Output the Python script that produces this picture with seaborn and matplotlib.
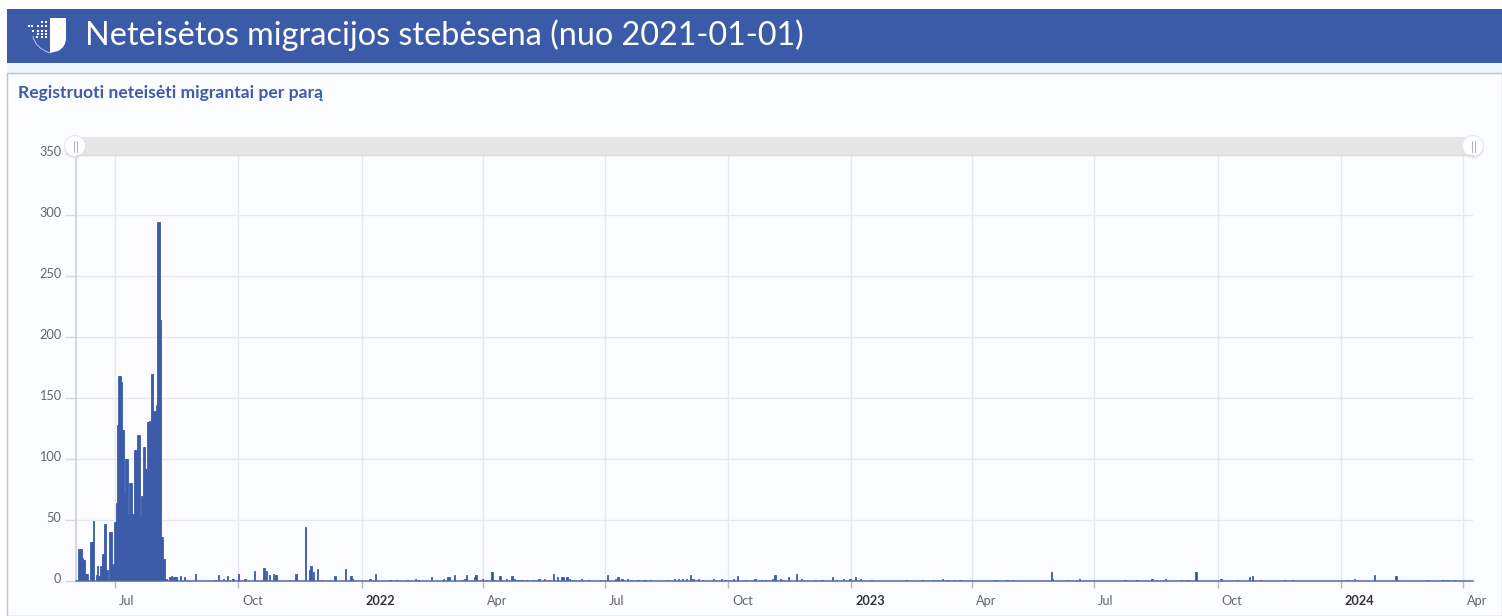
import matplotlib
matplotlib.use("Agg")
import matplotlib.pyplot as plt
import matplotlib.dates as mdates
from matplotlib.patches import Rectangle, Circle, PathPatch
from matplotlib.path import Path
from matplotlib.transforms import ScaledTranslation
import pandas as pd
import seaborn as sns

TITLE = "Neteisėtos migracijos stebėsena (nuo 2021-01-01)"
SUBTITLE = "Registruoti neteisėti migrantai per parą"

# Daily counts for the summer 2021 surge, consecutive days from first_day
first_day = "2021-06-04"
surge_values = [26, 26, 26, 19, 17, 6, 6, 0, 0, 32, 32, 49, 0, 5, 12, 4, 12, 12, 22, 47,
                47, 9, 0, 40, 40, 12, 14, 48, 64, 128, 168, 168, 163, 124, 72, 100, 100,
                55, 80, 80, 55, 55, 107, 107, 120, 120, 53, 70, 110, 110, 92, 130, 130,
                131, 170, 170, 139, 139, 144, 294, 294, 214, 36, 18, 18, 2, 0, 0, 3, 4, 0, 3, 3]

# Later isolated days: days counted from 2021-07-01, and the count on that day
later_days = [46, 49, 52, 54, 60, 75, 77, 81, 84, 88, 92, 97, 104, 111, 113, 115, 118, 120, 130, 135,
              142, 145, 146, 148, 151, 154, 160, 164, 172, 176, 177, 190, 194, 205, 210, 218, 224, 226,
              236, 245, 248, 249, 253, 259, 261, 262, 268, 269, 274, 277, 281, 283, 287, 292, 296, 298,
              300, 302, 304, 307, 312, 316, 320, 324, 327, 330, 333, 334, 337, 339, 341, 348, 353, 362,
              367, 373, 375, 378, 382, 385, 390, 394, 395, 399, 412, 417, 420, 423, 426, 429, 431, 435,
              438, 446, 452, 455, 461, 464, 470, 477, 482, 485, 490, 492, 496, 498, 502, 508, 512, 522,
              527, 535, 538, 543, 548, 552, 556, 564, 590, 602, 610, 613, 617, 621, 626, 630, 656, 665,
              669, 698, 699, 710, 717, 719, 753, 762, 773, 783, 795, 800, 806, 824, 825, 837, 846, 848,
              854, 872, 878, 919, 924, 939, 955, 978, 990, 993, 999]
later_values = [3, 4, 3, 1, 6, 1, 5, 2, 4, 2, 6, 2, 8, 11, 8, 5, 6, 5, 1, 6,
                44, 9, 12, 7, 10, 1, 1, 4, 10, 4, 2, 2, 6, 1, 1, 1, 2, 1,
                3, 2, 3, 3, 5, 1, 2, 5, 3, 5, 2, 1, 7, 1, 4, 2, 4, 2,
                1, 1, 1, 1, 1, 2, 2, 1, 6, 3, 3, 3, 3, 2, 1, 2, 1, 1,
                5, 2, 3, 2, 2, 1, 1, 1, 1, 1, 1, 2, 2, 2, 2, 5, 2, 2,
                1, 2, 2, 1, 2, 4, 1, 2, 1, 1, 2, 5, 2, 1, 3, 6, 2, 1,
                1, 3, 1, 2, 2, 3, 2, 1, 1, 1, 1, 1, 2, 1, 1, 1, 1, 1,
                1, 7, 2, 1, 1, 2, 1, 1, 2, 2, 1, 1, 7, 2, 2, 1, 3, 4,
                1, 1, 1, 1, 2, 5, 4, 1, 1, 1, 1]

tick_dates = ["2021-07-01", "2021-10-01", "2022-01-01", "2022-04-01", "2022-07-01", "2022-10-01",
              "2023-01-01", "2023-04-01", "2023-07-01", "2023-10-01", "2024-01-01", "2024-04-01"]
tick_labels = ["Jul", "Oct", "2022", "Apr", "Jul", "Oct", "2023", "Apr", "Jul", "Oct", "2024", "Apr"]
y_ticks = [0, 50, 100, 150, 200, 250, 300, 350]

W, H, DPI = 1502, 616, 100
BLUE = "#3B5BA9"
sns.set_theme(style="white")
plt.rcParams["font.family"] = ["Lato", "DejaVu Sans"]

fig = plt.figure(figsize=(W / DPI, H / DPI), dpi=DPI, facecolor="white")

# Page furniture, positioned in pixels
bg = fig.add_axes([0, 0, 1, 1], zorder=0)
bg.set_xlim(0, W); bg.set_ylim(H, 0); bg.axis("off")
bg.add_patch(Rectangle((7, 9), W - 7, 54, color=BLUE, lw=0))
bg.add_patch(Rectangle((7, 63), W - 7, 10, color="#EFF5FD", lw=0))
bg.add_patch(Rectangle((7, 73), W - 7, H - 73, fc="#FBFCFF", ec="#B8C3E0", lw=1))
bg.text(85, 35.5, TITLE, color="white", fontsize=23.3, va="center", ha="left")
bg.text(18, 93, SUBTITLE, color="#3F5CA8", fontsize=12.6, fontweight="bold", va="center", ha="left")
shield = Path([(50, 18), (66, 18), (66, 38), (66, 47), (58, 51), (50, 53), (50, 18)],
              [Path.MOVETO, Path.LINETO, Path.LINETO, Path.CURVE3, Path.CURVE3, Path.LINETO, Path.CLOSEPOLY])
bg.add_patch(PathPatch(shield, fc="white", lw=0))
outline = Path([(33, 36), (35, 48), (50, 53)], [Path.MOVETO, Path.CURVE3, Path.CURVE3])
bg.add_patch(PathPatch(outline, fc="none", ec="#B9C6E4", lw=0.7))
for px, py in [(28, 25), (31, 25), (37, 25), (41, 25), (45, 25), (32, 30), (37, 30), (41, 30), (45, 30),
               (37, 33), (41, 33), (45, 33), (41, 21), (45, 21), (45, 36), (41, 36), (36, 36)]:
    bg.add_patch(Rectangle((px, py), 2, 2, color="white", lw=0))

# Data
surge = pd.DataFrame({"date": pd.date_range(first_day, periods=len(surge_values), freq="D"),
                      "count": surge_values})
later = pd.DataFrame({"date": pd.Timestamp("2021-07-01") + pd.to_timedelta(later_days, unit="D"),
                      "count": later_values})
df = pd.concat([surge, later], ignore_index=True)
df["num"] = mdates.date2num(df["date"])
origin = mdates.date2num(pd.Timestamp("2021-07-01"))

ax = fig.add_axes([76 / W, 1 - 581 / H, (1473 - 76) / W, (581 - 154) / H], zorder=1)
ax.patch.set_alpha(0)
sns.barplot(data=df, x="num", y="count", native_scale=True, width=1.0, color=BLUE, saturation=1,
            errorbar=None, ax=ax, zorder=3, linewidth=0.6, edgecolor=BLUE)
ax.set_xlim(origin - 29.08, origin + 1012.4)
ax.set_ylim(0, 350)
ax.set_xlabel(""); ax.set_ylabel("")

ax.set_yticks(y_ticks)
ax.set_yticklabels([str(v) for v in y_ticks], fontsize=9.2, color="#666666")
ax.set_xticks(mdates.date2num(pd.to_datetime(tick_dates)))
ax.set_xticklabels(tick_labels, fontsize=9.2, color="#666666", ha="left")
ax.tick_params(axis="y", length=8, width=1, color="#D5D8DE", pad=7, left=True)
ax.tick_params(axis="x", length=5, width=1, color="#B5B9C2", pad=5, bottom=True)
ax.grid(True, color="#E6E8EF", lw=1, zorder=0)
ax.set_axisbelow(True)
shift_x = ScaledTranslation(4 / DPI, 0, fig.dpi_scale_trans)
for lab, text in zip(ax.get_xticklabels(), tick_labels):
    lab.set_transform(lab.get_transform() + shift_x)
    if text.isdigit():
        lab.set_fontweight("bold")
        lab.set_color("#333333")
shift_y = ScaledTranslation(6 / DPI, 3 / DPI, fig.dpi_scale_trans)
for lab in ax.get_yticklabels():
    lab.set_transform(lab.get_transform() + shift_y)
for s in ("top", "right"):
    ax.spines[s].set_visible(False)
ax.spines["left"].set_color("#CDD0D6"); ax.spines["left"].set_linewidth(1.2)
ax.spines["bottom"].set_color("#5468A6"); ax.spines["bottom"].set_linewidth(1.1)
ax.spines["bottom"].set_zorder(4)

# Range slider on top of the plot
top = fig.add_axes([0, 0, 1, 1], zorder=2)
top.set_xlim(0, W); top.set_ylim(H, 0); top.axis("off"); top.patch.set_alpha(0)
top.add_patch(Rectangle((76, 137), 1397, 18, fc="#E6E6E6", ec="none"))
top.plot([76, 1473], [155, 155], color="#DADADA", lw=1)
for cx in (75, 1473):
    top.add_patch(Circle((cx, 147), 11, fc="#DADDE4", ec="none"))
    top.add_patch(Circle((cx, 146), 10.5, fc="white", ec="#E6E8EE", lw=0.7))
    for dx in (-1.5, 1.5):
        top.plot([cx + dx, cx + dx], [141, 152], color="#B5B5B5", lw=0.8)

fig.savefig("out.png", dpi=DPI, facecolor="white")
